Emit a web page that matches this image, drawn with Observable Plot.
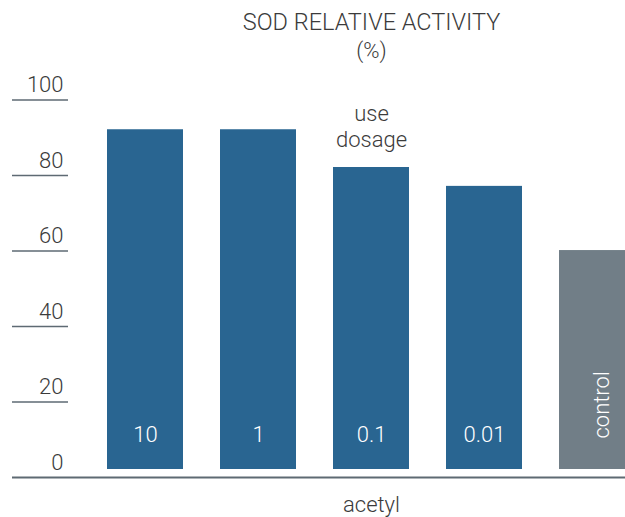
<!DOCTYPE html>
<html>
<head>
<meta charset="utf-8">
<script src="https://cdn.jsdelivr.net/npm/d3@7"></script>
<script src="https://cdn.jsdelivr.net/npm/@observablehq/plot@0.6"></script>
<style>
  html, body { margin: 0; padding: 0; background: #fff; overflow: hidden; }
  #chart svg { display: block; }
</style>
</head>
<body>
<div id="chart"></div>
<script>
const dosages = ["10", "1", "0.1", "0.01", "control"];
const activity = [90, 90, 80, 75, 58];
const groups = ["acetyl", "acetyl", "acetyl", "acetyl", "control"];
const yTicks = [0, 20, 40, 60, 80, 100];
const titleLines = ["SOD RELATIVE ACTIVITY", "(%)"];
const noteLines = ["use", "dosage"];
const xLabel = "acetyl";

const rows = dosages.map((d, i) => ({dosage: d, value: activity[i], group: groups[i]}));
const acetylRows = rows.filter(r => r.group === "acetyl");
const controlRows = rows.filter(r => r.group === "control");

const font = "Roboto, 'Noto Sans', sans-serif";
const textColor = "#3b3b3b";
const lineColor = "#5e6a73";

const chart = Plot.plot({
  width: 625,
  height: 517,
  marginTop: 0, marginRight: 0, marginBottom: 0, marginLeft: 0,
  style: {fontFamily: font, fontWeight: 300, background: "#fff", overflow: "hidden"},
  x: {domain: dosages, range: [106, 636], paddingInner: 0.33, paddingOuter: 0, axis: null},
  y: {domain: [0, 100], range: [469, 91.5], axis: null},
  color: {domain: ["acetyl", "control"], range: ["#296591", "#717e87"]},
  marks: [
    Plot.barY(rows, {x: "dosage", y: "value", fill: "group"}),
    Plot.ruleY(yTicks.slice(1), {y: d => d, dy: 8, insetLeft: 12, insetRight: 557, stroke: lineColor, strokeWidth: 1.5}),
    Plot.ruleY([0], {y: d => d, dy: 8, insetLeft: 12, stroke: lineColor, strokeWidth: 2}),
    Plot.text(yTicks, {y: d => d, text: d => String(d), frameAnchor: "left", dx: 63, textAnchor: "end", lineAnchor: "bottom", fontSize: 22, fill: textColor}),
    Plot.text(acetylRows, {x: "dosage", y: () => 0, text: "dosage", dy: -28, lineAnchor: "bottom", fontSize: 22, fill: "#fff"}),
    Plot.text(controlRows, {x: "dosage", y: () => 0, text: "dosage", rotate: -90, textAnchor: "start", dy: -31, dx: 11, lineAnchor: "bottom", fontSize: 22, fill: "#fff"}),
    Plot.text([titleLines[0]], {x: () => "0.1", frameAnchor: "top", dy: 29, lineAnchor: "bottom", fontSize: 23.5, fill: textColor, ariaLabel: "chart-title"}),
    Plot.text([titleLines[1]], {x: () => "0.1", frameAnchor: "top", dy: 57, lineAnchor: "bottom", fontSize: 22, fill: textColor}),
    Plot.text([noteLines[0]], {x: () => "0.1", frameAnchor: "top", dy: 120, lineAnchor: "bottom", fontSize: 22, fill: textColor}),
    Plot.text([noteLines[1]], {x: () => "0.1", frameAnchor: "top", dy: 146, lineAnchor: "bottom", fontSize: 22, fill: textColor, ariaLabel: "note"}),
    Plot.text([xLabel], {x: () => "0.1", frameAnchor: "top", dy: 511, lineAnchor: "bottom", fontSize: 22, fill: textColor})
  ]
});
d3.select(chart).selectAll('g[aria-label="chart-title"] text').attr("letter-spacing", "0.55px");
d3.select(chart).selectAll('g[aria-label="note"] text').attr("letter-spacing", "0.5px");
document.getElementById("chart").appendChild(chart);
</script>
</body>
</html>
